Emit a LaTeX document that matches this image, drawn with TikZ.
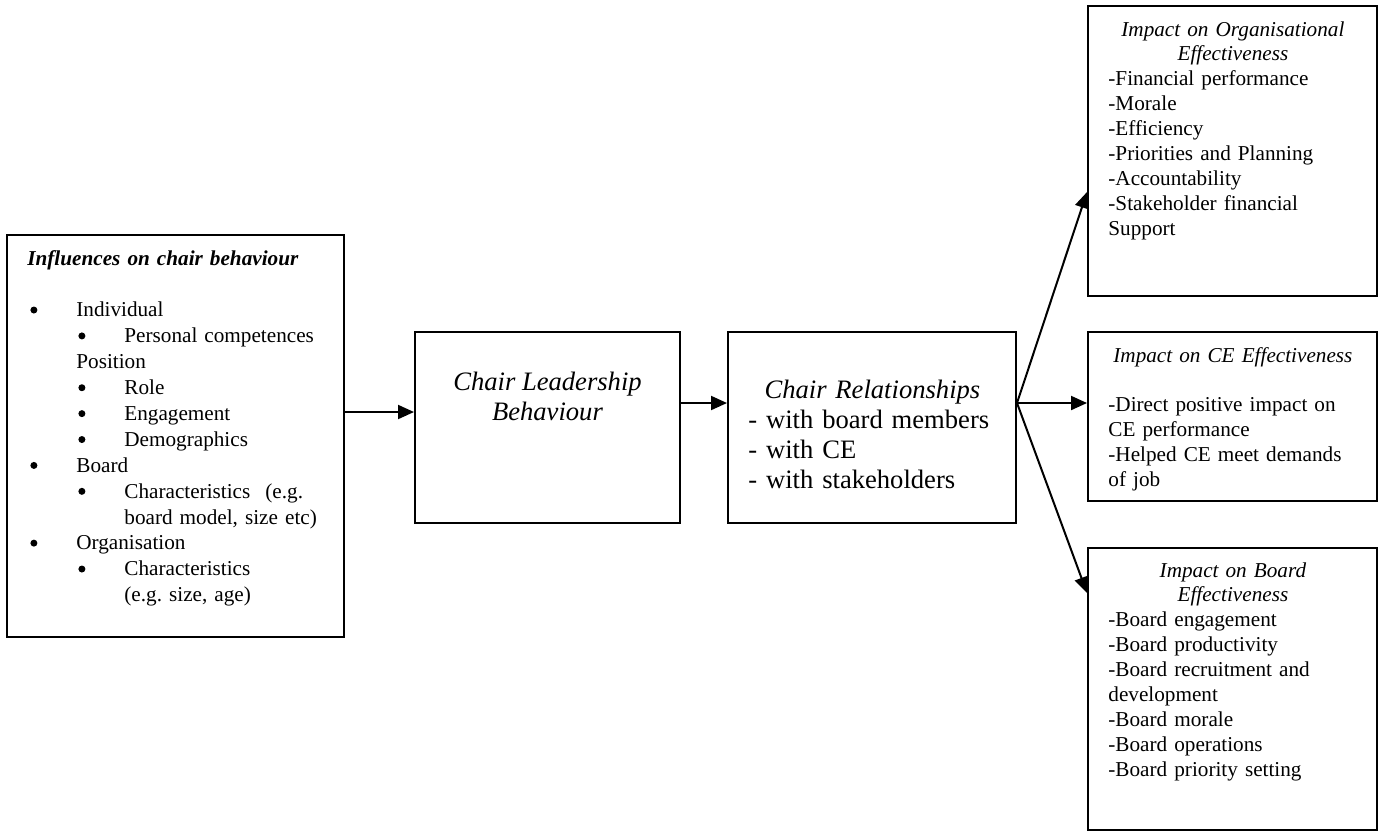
\documentclass[tikz,border=0pt]{standalone}
\usepackage{fontspec}
\setmainfont{Liberation Serif}
\usetikzlibrary{arrows.meta,fit,calc}
\frenchspacing

% list lines of the influences box
\newcommand{\blob}{\tikz[baseline={(0,-0.32em)}]\fill (0,0) circle (1.75pt);}
\newcommand{\itemA}[1]{\hspace*{1.5pt}\makebox[23pt][l]{\blob}#1}
\newcommand{\itemB}[1]{\hspace*{25.5pt}\makebox[23pt][l]{\blob}#1}
\newcommand{\contA}[1]{\hspace*{24.5pt}#1}
\newcommand{\contB}[1]{\hspace*{48.5pt}#1}

\tikzset{
  panel/.style={draw, line width=1pt, inner sep=0pt},
  link/.style={-{Triangle[length=8pt,width=7pt]}, line width=1pt},
  listtext/.style={inner sep=0pt, align=left, anchor=base west, text width=158pt,
    font=\fontsize{10.6pt}{12.95pt}\selectfont},
  sidetext/.style={inner sep=0pt, align=left, anchor=base west, text width=124.5pt,
    font=\fontsize{10.6pt}{12.45pt}\selectfont},
  bigtext/.style={inner sep=0pt, font=\fontsize{13.3pt}{15pt}\selectfont}
}

\begin{document}
\begin{tikzpicture}[x=0.5pt,y=-0.5pt]
    \useasboundingbox (0,0) rectangle (1384,832);

    % boxes
    \node[panel, fit={(7,235) (344,637)}] (infl) {};
    \node[panel, fit={(415,332) (680,523)}] (lead) {};
    \node[panel, fit={(728,332) (1016,523)}] (rel) {};
    \node[panel, fit={(1088,6) (1377,296)}] (org) {};
    \node[panel, fit={(1088,332) (1377,501)}] (ce) {};
    \node[panel, fit={(1088,548) (1377,830)}] (brd) {};

    % texts
    \node[listtext] (infltext) at (27,265) {%
        \textbf{\textit{Influences on chair behaviour}}\\[12.95pt]
        \itemA{Individual}\\
        \itemB{Personal competences}\\
        \contA{Position}\\
        \itemB{Role}\\
        \itemB{Engagement}\\
        \itemB{Demographics}\\
        \itemA{Board}\\
        \itemB{Characteristics\hspace{7.5pt}(e.g.}\\
        \contB{board model, size etc)}\\
        \itemA{Organisation}\\
        \itemB{Characteristics}\\
        \contB{(e.g. size, age)}};
    \node[bigtext, align=center, anchor=base] (leadtext) at (547.5,420)
        {\textit{Chair Leadership}\\\textit{Behaviour}};
    \node[bigtext, align=left, anchor=base west, text width=124pt] (reltext) at (748,398) {%
        {\centering\textit{Chair Relationships}\par}
        - with board members\\
        - with CE\\
        - with stakeholders};
    \node[sidetext] (orgtext) at (1108,36) {%
        {\centering\textit{Impact on Organisational}\\\textit{Effectiveness}\par}
        -Financial performance\\
        -Morale\\
        -Efficiency\\
        -Priorities and Planning\\
        -Accountability\\
        -Stakeholder financial\\
        Support};
    \node[sidetext] (cetext) at (1108,362) {%
        {\centering\textit{Impact on CE Effectiveness}\par}
        \mbox{}\\
        -Direct positive impact on\\
        CE performance\\
        -Helped CE meet demands\\
        of job};
    \node[sidetext] (brdtext) at (1108,577) {%
        {\centering\textit{Impact on Board}\\\textit{Effectiveness}\par}
        -Board engagement\\
        -Board productivity\\
        -Board recruitment and\\
        development\\
        -Board morale\\
        -Board operations\\
        -Board priority setting};

    % arrows
    \coordinate (lvl1) at (0,412);
    \coordinate (lvl2) at (0,403);
    \coordinate (up) at (0,192);
    \coordinate (down) at (0,593);
    \coordinate (hub) at (rel.east |- lvl2);
    \draw[link] (infl.east |- lvl1) -- (lead.west |- lvl1);
    \draw[link] (lead.east |- lvl2) -- (rel.west |- lvl2);
    \draw[link] (hub) -- (org.west |- up);
    \draw[link] (hub) -- (ce.west |- hub);
    \draw[link] (hub) -- (brd.west |- down);
\end{tikzpicture}
\end{document}
